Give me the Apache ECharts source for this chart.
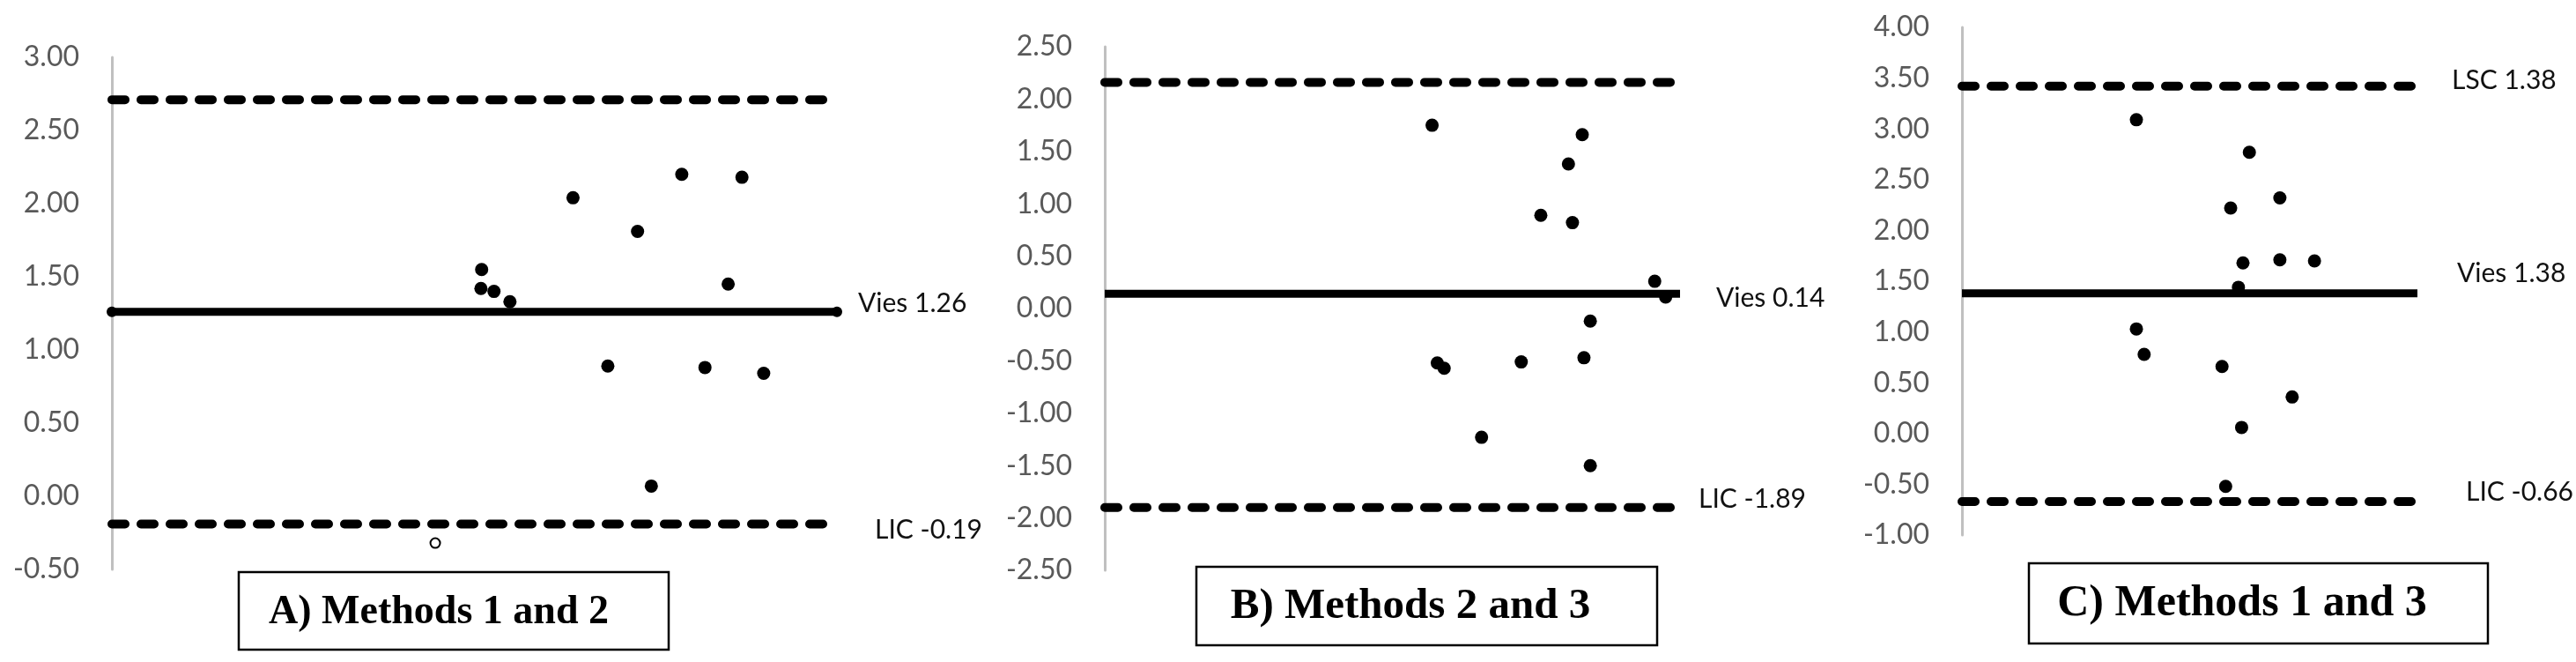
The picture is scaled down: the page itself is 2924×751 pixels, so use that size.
<!DOCTYPE html>
<html>
<head>
<meta charset="utf-8">
<script src="https://cdn.jsdelivr.net/npm/echarts@6/dist/echarts.min.js"></script>
<style>
  html, body { margin: 0; padding: 0; background: #fff; }
  #chart { width: 2924px; height: 751px; }
</style>
</head>
<body>
<div id="chart"></div>
<script>
// position along the (hidden) horizontal axis, 0..100
const aX = [51.0, 50.9, 52.7, 54.9, 63.6, 68.4, 72.5, 74.4, 78.6, 81.8, 85.0, 86.9, 89.9]
const aY = [1.55, 1.42, 1.40, 1.33, 2.04, 0.89, 1.81, 0.07, 2.20, 0.88, 1.45, 2.18, 0.84]
const aOpenX = [44.6]
const aOpenY = [-0.32]
const bX = [56.9, 57.8, 59.0, 65.5, 72.4, 75.8, 80.6, 81.3, 83.0, 83.3, 84.4, 84.4, 95.6, 97.5]
const bY = [1.75, -0.52, -0.57, -1.23, -0.51, 0.89, 1.38, 0.82, 1.66, -0.47, -0.12, -1.50, 0.26, 0.11]
const cX = [38.3, 38.3, 40.0, 57.1, 57.9, 59.0, 60.7, 61.4, 61.7, 63.1, 69.8, 69.8, 72.5, 77.4]
const cY = [3.09, 1.03, 0.78, 0.66, -0.52, 2.22, 1.44, 0.06, 1.68, 2.77, 2.32, 1.71, 0.36, 1.70]

// upper limit, bias, lower limit
const aLimits = [2.71, 1.26, -0.19]
const bLimits = [2.16, 0.14, -1.90]
const cLimits = [3.42, 1.38, -0.67]
const aLabels = ['', 'Vies 1.26', 'LIC -0.19']
const bLabels = ['', 'Vies 0.14', 'LIC -1.89']
const cLabels = ['LSC 1.38', 'Vies 1.38', 'LIC -0.66']
const titles = ['A) Methods 1 and 2', 'B) Methods 2 and 3', 'C) Methods 1 and 3']
const yRanges = [[-0.5, 3], [-2.5, 2.5], [-1, 4]]

const chart = echarts.init(document.getElementById('chart'))

const grids = [
  { left: 127, top: 65, width: 823, height: 581 },
  { left: 1254, top: 53, width: 653, height: 594 },
  { left: 2227, top: 31, width: 517, height: 576 }
]

// label offsets from the line end [dx, dy], per panel and per line
const labelOffsets = [
  [[0, 0], [24, -10], [43, 7]],
  [[0, 0], [41, 5], [21, -9]],
  [[39, -6], [45, -22], [55, -11]]
]

const pair = (xs, ys) => xs.map((x, i) => [x, ys[i]])

const limitSeries = (idx, limits, labels) =>
  limits.map((v, k) => ({
    type: 'line',
    xAxisIndex: idx,
    yAxisIndex: idx,
    data: [[0, v], [100, v]],
    symbol: idx === 0 && k === 1 ? 'circle' : 'none',
    symbolSize: 12,
    itemStyle: { color: '#000', opacity: 1 },
    lineStyle: k === 1
      ? { color: '#000', width: 9 }
      : { color: '#000', width: 10, type: [15, 18], cap: 'round' },
    endLabel: {
      show: labels[k] !== '',
      formatter: labels[k],
      color: '#111',
      fontSize: 30,
      fontFamily: 'Lato',
      distance: 0,
      offset: labelOffsets[idx][k]
    },
    z: 2
  }))

const dots = (idx, xs, ys) => ({
  type: 'scatter',
  xAxisIndex: idx,
  yAxisIndex: idx,
  data: pair(xs, ys),
  symbolSize: 15,
  itemStyle: { color: '#000', opacity: 1 },
  z: 3
})

const titleBoxes = [
  { x: 271, y: 649, w: 488, h: 88, tx: 498, ty: 695, fs: 46 },
  { x: 1358, y: 643, w: 523, h: 89, tx: 1601, ty: 688, fs: 49 },
  { x: 2303, y: 639, w: 521, h: 91, tx: 2545, ty: 685, fs: 50 }
]

chart.setOption({
  animation: false,
  backgroundColor: '#fff',
  grid: grids,
  xAxis: grids.map((g, i) => ({ type: 'value', gridIndex: i, min: 0, max: 100, show: false })),
  yAxis: yRanges.map((r, i) => ({
    type: 'value',
    gridIndex: i,
    min: r[0],
    max: r[1],
    interval: 0.5,
    axisLine: { show: true, onZero: false, lineStyle: { color: '#c0c0c0', width: 3 } },
    axisTick: { show: false },
    splitLine: { show: false },
    axisLabel: {
      formatter: v => v.toFixed(2),
      color: '#595959',
      fontSize: 32,
      fontFamily: 'Lato',
      margin: 37
    }
  })),
  series: [
    ...limitSeries(0, aLimits, aLabels),
    ...limitSeries(1, bLimits, bLabels),
    ...limitSeries(2, cLimits, cLabels),
    dots(0, aX, aY),
    {
      type: 'scatter',
      xAxisIndex: 0,
      yAxisIndex: 0,
      data: pair(aOpenX, aOpenY),
      symbol: 'circle',
      symbolSize: 11,
      itemStyle: { color: '#fff', borderColor: '#000', borderWidth: 2, opacity: 1 },
      z: 3
    },
    dots(1, bX, bY),
    dots(2, cX, cY)
  ],
  graphic: titleBoxes.flatMap((b, i) => [
    {
      type: 'rect',
      shape: { x: b.x, y: b.y, width: b.w, height: b.h },
      style: { fill: '#fff', stroke: '#000', lineWidth: 2.5 }
    },
    {
      type: 'text',
      x: b.tx,
      y: b.ty,
      style: {
        text: titles[i],
        fill: '#000',
        font: 'bold ' + b.fs + 'px "Liberation Serif", "Times New Roman", serif',
        textAlign: 'center',
        textVerticalAlign: 'middle'
      }
    }
  ])
})
</script>
</body>
</html>
